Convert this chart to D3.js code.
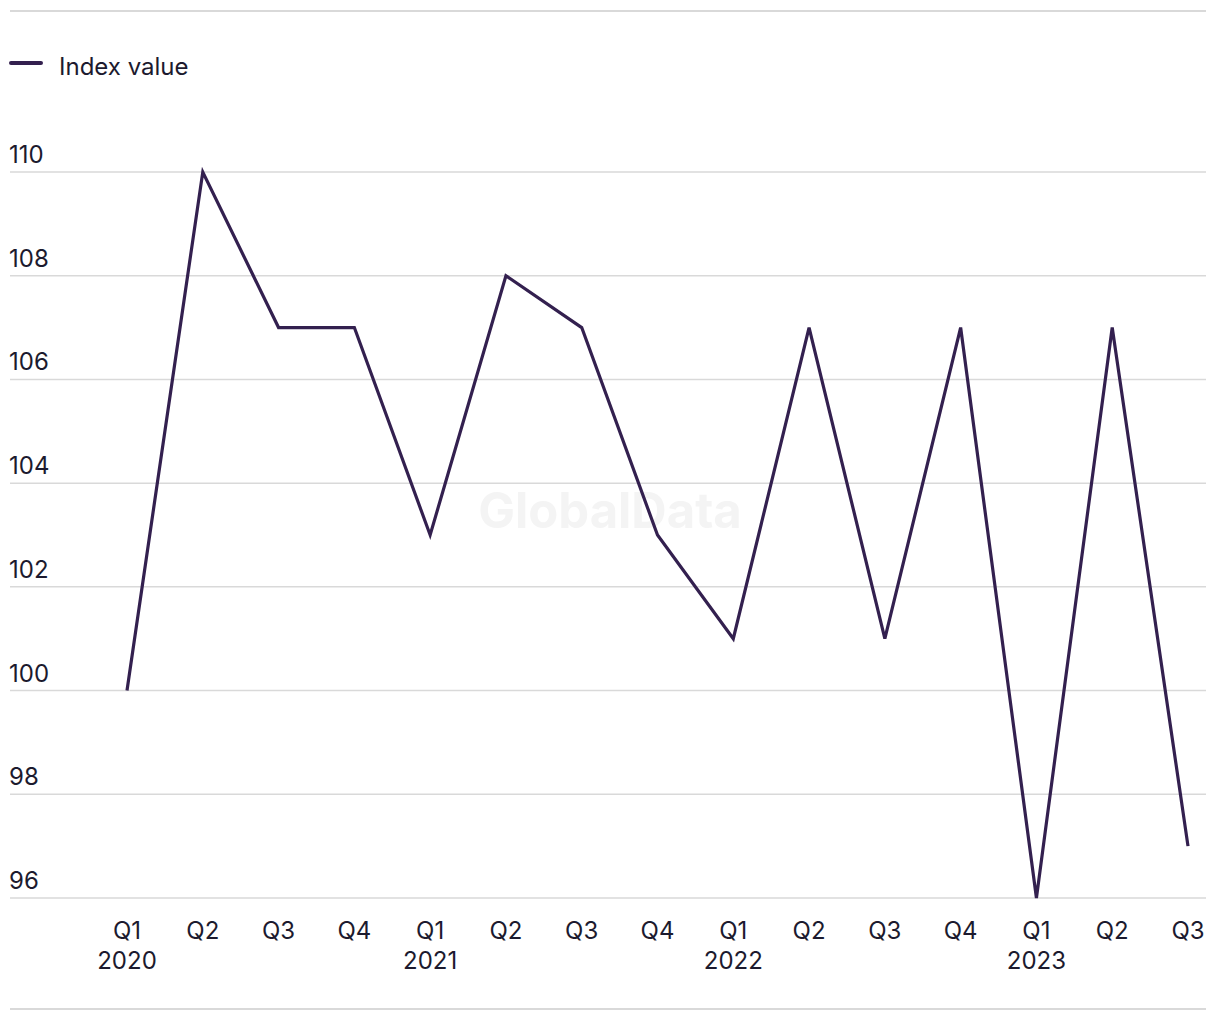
<!DOCTYPE html>
<html><head><meta charset="utf-8">
<script src="https://cdn.jsdelivr.net/npm/d3@7"></script>
<style>body{margin:0;background:#fff;} text{font-family:"Inter","Liberation Sans",Arial,sans-serif;}</style>
</head><body>
<svg id="c" width="1220" height="1020"></svg>
<script>
const quarters = ["Q1","Q2","Q3","Q4","Q1","Q2","Q3","Q4","Q1","Q2","Q3","Q4","Q1","Q2","Q3"];
const years = ["2020","","","","2021","","","","2022","","","","2023","",""];
const values = [100,110,107,107,103,108,107,103,101,107,101,107,96,107,97];
const yTicks = [96,98,100,102,104,106,108,110];
const seriesName = "Index value";

const svg = d3.select("#c");
const ink = "#1c1a2e", lineColor = "#33204f", grid = "#d9d9d9";
const idx = d3.range(values.length);
const x = d3.scalePoint().domain(idx).range([127,1188]);
const y = d3.scaleLinear().domain([96,110]).range([898,172]);

svg.append("line").attr("x1",10).attr("x2",1206).attr("y1",11).attr("y2",11).attr("stroke",grid).attr("stroke-width",2);
svg.append("line").attr("x1",10).attr("x2",1206).attr("y1",1009).attr("y2",1009).attr("stroke",grid).attr("stroke-width",2);

// watermark
svg.append("text").attr("x",610).attr("y",528).attr("text-anchor","middle")
  .attr("font-size",49).attr("font-weight","bold").attr("fill","#f4f4f4").text("GlobalData");

// grid + y labels
const yg = svg.append("g");
yTicks.forEach(t=>{
  yg.append("line").attr("x1",10).attr("x2",1206).attr("y1",y(t)).attr("y2",y(t)).attr("stroke",grid).attr("stroke-width",1.5);
  yg.append("text").attr("x",9).attr("y",y(t)-9).attr("font-size",24).attr("fill",ink).text(t);
});

// x labels
const xg = svg.append("g");
idx.forEach(i=>{
  xg.append("text").attr("x",x(i)).attr("y",939).attr("text-anchor","middle").attr("font-size",24).attr("fill",ink).text(quarters[i]);
  if(years[i]) xg.append("text").attr("x",x(i)).attr("y",969).attr("text-anchor","middle").attr("font-size",24).attr("fill",ink).text(years[i]);
});

// line
svg.append("path").datum(values).attr("fill","none").attr("stroke",lineColor).attr("stroke-width",3.2)
  .attr("stroke-linejoin","miter")
  .attr("d", d3.line().x((d,i)=>x(i)).y(d=>y(d)));

// legend
svg.append("line").attr("x1",11).attr("x2",41).attr("y1",63).attr("y2",63).attr("stroke",lineColor).attr("stroke-width",4).attr("stroke-linecap","round");
svg.append("text").attr("x",59).attr("y",75).attr("font-size",24).attr("fill",ink).text(seriesName);
</script>
</body></html>
